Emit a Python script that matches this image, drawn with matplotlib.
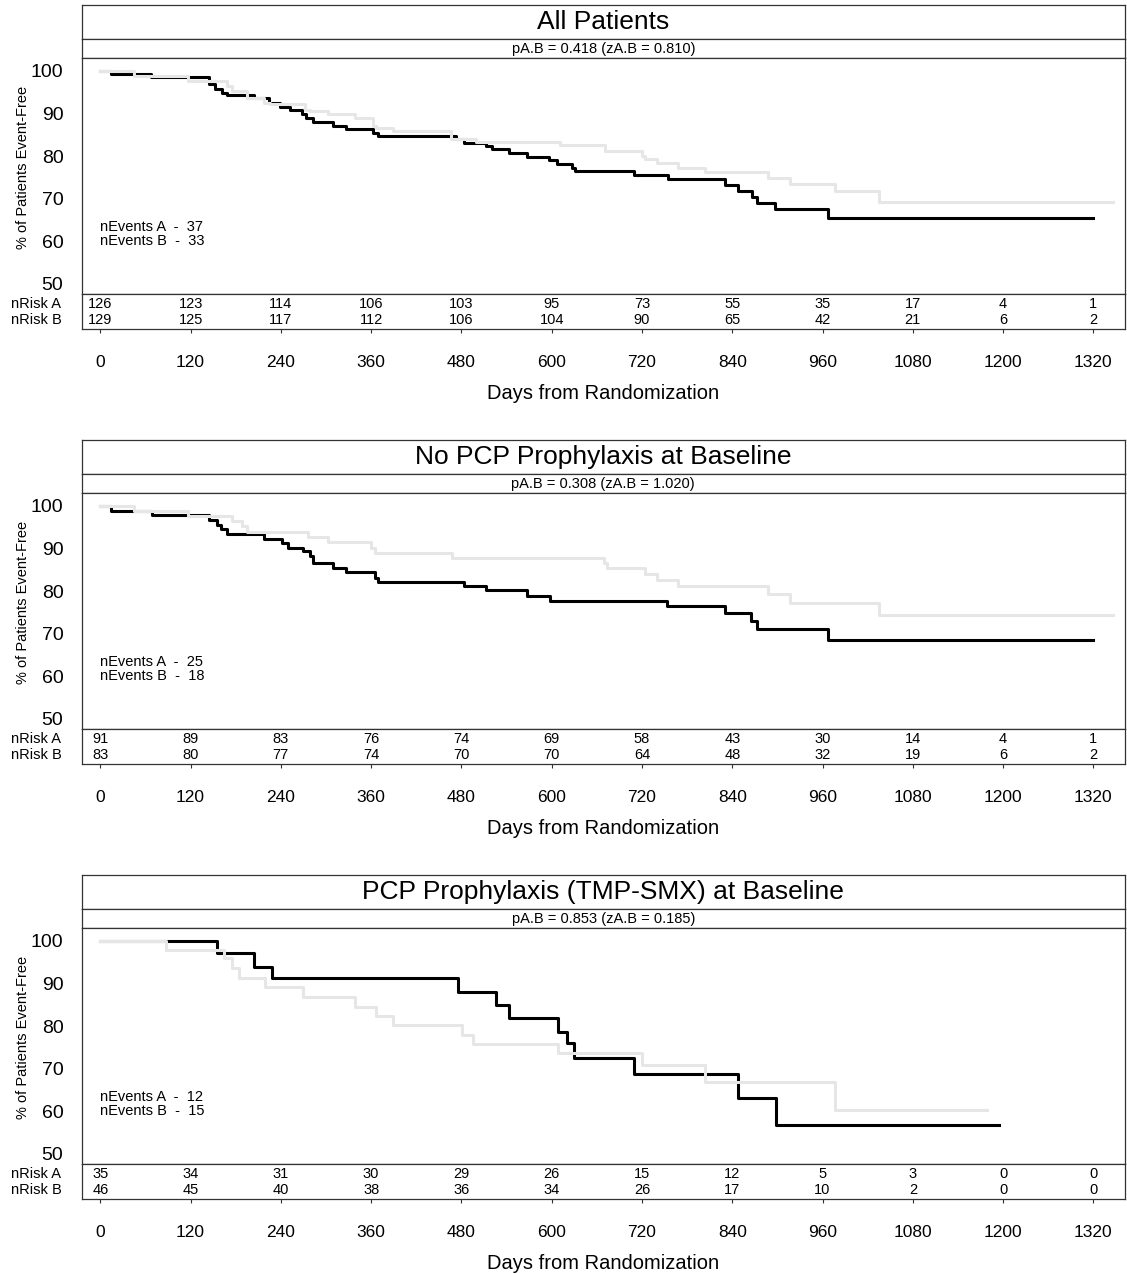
import matplotlib
matplotlib.use('Agg')
import matplotlib.pyplot as plt

plt.rcParams['font.family'] = ['Liberation Sans', 'DejaVu Sans']

# ---------------- data ----------------
titles = ["All Patients", "No PCP Prophylaxis at Baseline", "PCP Prophylaxis (TMP-SMX) at Baseline"]
subtitles = ["pA.B = 0.418 (zA.B = 0.810)", "pA.B = 0.308 (zA.B = 1.020)", "pA.B = 0.853 (zA.B = 0.185)"]
n_events_a = [37, 25, 12]
n_events_b = [33, 18, 15]

tick_days = [0, 120, 240, 360, 480, 600, 720, 840, 960, 1080, 1200, 1320]
y_ticks = [50, 60, 70, 80, 90, 100]

# Panel 1: All Patients
p1_a_days = [0, 14, 67, 145, 153, 162, 169, 204, 224, 239, 252, 268, 274, 283, 309, 327, 362, 369,
             473, 484, 512, 521, 543, 567, 596, 607, 627, 631, 709, 755, 830, 847, 866, 873, 897, 967]
p1_a_surv = [100, 99.2, 98.6, 96.9, 95.7, 94.9, 94.3, 93.7, 92.6, 91.5, 90.8, 90.0, 89.0, 88.0, 87.2, 86.3, 85.5, 84.7,
             84.0, 83.2, 82.4, 81.8, 80.8, 79.9, 79.0, 78.1, 77.3, 76.5, 75.5, 74.6, 73.2, 71.8, 70.5, 69.1, 67.7, 65.4]
p1_a_end = 1319
p1_b_days = [0, 45, 116, 168, 175, 195, 217, 226, 272, 279, 303, 338, 362, 367, 389, 466, 499, 611,
             671, 720, 724, 740, 768, 804, 888, 917, 976, 1035]
p1_b_surv = [100, 98.8, 97.7, 96.5, 95.3, 93.7, 92.6, 92.2, 90.8, 90.6, 89.8, 89.0, 87.1, 86.7, 85.9, 84.0, 83.4, 82.6,
             81.2, 80.0, 79.3, 78.5, 77.3, 76.3, 74.8, 73.4, 71.8, 69.3]
p1_b_end = 1346
p1_risk_a = [126, 123, 114, 106, 103, 95, 73, 55, 35, 17, 4, 1]
p1_risk_b = [129, 125, 117, 112, 106, 104, 90, 65, 42, 21, 6, 2]

# Panel 2: No PCP prophylaxis
p2_a_days = [0, 14, 69, 145, 155, 161, 169, 217, 241, 250, 270, 279, 283, 309, 327, 365, 369,
             484, 512, 567, 598, 753, 830, 865, 873, 967]
p2_a_surv = [100, 98.9, 97.8, 96.7, 95.6, 94.5, 93.4, 92.2, 91.4, 90.2, 89.4, 88.3, 86.7, 85.5, 84.5, 83.2, 82.2,
             81.2, 80.2, 78.9, 77.7, 76.5, 74.8, 73.0, 71.2, 68.5]
p2_a_end = 1319
p2_b_days = [0, 45, 116, 175, 188, 195, 276, 303, 360, 365, 468, 669, 674, 724, 740, 768, 888, 917, 1035]
p2_b_surv = [100, 98.8, 97.6, 96.4, 95.2, 94.0, 92.8, 91.6, 90.2, 89.0, 87.8, 86.7, 85.5, 84.0, 82.6, 81.2, 79.3, 77.3, 74.3]
p2_b_end = 1346
p2_risk_a = [91, 89, 83, 76, 74, 69, 58, 43, 30, 14, 4, 1]
p2_risk_b = [83, 80, 77, 74, 70, 70, 64, 48, 32, 19, 6, 2]

# Panel 3: PCP prophylaxis (TMP-SMX)
p3_a_days = [0, 155, 204, 228, 476, 526, 543, 608, 620, 629, 709, 847, 898]
p3_a_surv = [100, 97.1, 94.0, 91.2, 88.1, 85.0, 82.0, 78.7, 76.0, 72.5, 68.8, 63.1, 56.8]
p3_a_end = 1194
p3_b_days = [0, 87, 164, 175, 184, 219, 270, 338, 367, 389, 481, 495, 609, 720, 804, 976]
p3_b_surv = [100, 97.9, 95.9, 93.6, 91.4, 89.1, 86.9, 84.6, 82.5, 80.3, 77.9, 75.8, 73.6, 70.9, 66.8, 60.3]
p3_b_end = 1179
p3_risk_a = [35, 34, 31, 30, 29, 26, 15, 12, 5, 3, 0, 0]
p3_risk_b = [46, 45, 40, 38, 36, 34, 26, 17, 10, 2, 0, 0]

panels = [
    (p1_a_days, p1_a_surv, p1_a_end, p1_b_days, p1_b_surv, p1_b_end, p1_risk_a, p1_risk_b),
    (p2_a_days, p2_a_surv, p2_a_end, p2_b_days, p2_b_surv, p2_b_end, p2_risk_a, p2_risk_b),
    (p3_a_days, p3_a_surv, p3_a_end, p3_b_days, p3_b_surv, p3_b_end, p3_risk_a, p3_risk_b),
]

# ---------------- layout ----------------
W, H = 1127, 1274
fig = plt.figure(figsize=(W / 100, H / 100), dpi=100)

XL, XR = 81.5, 1125.0
XMIN, XMAX = -25, 1362
YMIN, YMAX = 47.58, 102.98
FRAME = '#333333'
FW = 0.9
GRAY = '#e6e6e6'


def fy(y):
    return 1 - y / H


def frame(ax):
    for s in ax.spines.values():
        s.set_color(FRAME)
        s.set_linewidth(FW)


for k, (ad, av, ae, bd, bv, be, ra, rb) in enumerate(panels):
    o = 435 * k
    L = XL / W
    Wd = (XR - XL) / W
    ax_t = fig.add_axes([L, fy(39.3 + o), Wd, (39.3 - 5) / H])
    ax_s = fig.add_axes([L, fy(58.3 + o), Wd, (58.3 - 39.3) / H])
    ax = fig.add_axes([L, fy(294.3 + o), Wd, (294.3 - 58.3) / H])
    ax_r = fig.add_axes([L, fy(329 + o), Wd, (329 - 294.3) / H])

    for a in (ax_t, ax_s):
        a.set_xticks([])
        a.set_yticks([])
        frame(a)
    ax_t.text(0.5, 0.5, titles[k], ha='center', va='center', fontsize=19, transform=ax_t.transAxes)
    ax_s.text(0.5, 0.48, subtitles[k], ha='center', va='center', fontsize=10.5, transform=ax_s.transAxes)

    # survival curves
    ax.step(ad + [ae], av + [av[-1]], where='post', color='black', lw=2.2, zorder=3)
    ax.step(bd + [be], bv + [bv[-1]], where='post', color=GRAY, lw=2.2, zorder=4)
    ax.set_xlim(XMIN, XMAX)
    ax.set_ylim(YMIN, YMAX)
    ax.set_xticks([])
    ax.set_yticks(y_ticks)
    ax.set_yticklabels([str(v) for v in y_ticks], fontsize=14)
    ax.tick_params(axis='y', length=0, pad=13)
    ax.set_ylabel('% of Patients Event-Free', fontsize=10.5)
    ax.yaxis.set_label_coords(-0.049, 0.537)
    frame(ax)

    ax.text(0, 63.4, f'nEvents A  -  {n_events_a[k]}', fontsize=10.5, ha='left', va='center')
    ax.text(0, 60.2, f'nEvents B  -  {n_events_b[k]}', fontsize=10.5, ha='left', va='center')

    # risk table
    ax_r.set_xlim(XMIN, XMAX)
    ax_r.set_ylim(0, 1)
    ax_r.set_yticks([])
    ax_r.set_xticks(tick_days)
    ax_r.set_xticklabels([str(d) for d in tick_days], fontsize=12.5)
    ax_r.tick_params(axis='x', direction='out', length=3, width=0.8, pad=16, colors=FRAME, labelcolor='black')
    ax_r.set_xlabel('Days from Randomization', fontsize=14.5, labelpad=10)
    frame(ax_r)
    for d, na, nb in zip(tick_days, ra, rb):
        ax_r.text(d, 0.72, str(na), ha='center', va='center', fontsize=10.5)
        ax_r.text(d, 0.26, str(nb), ha='center', va='center', fontsize=10.5)
    ax_r.text(-0.0193, 0.72, 'nRisk A', ha='right', va='center', fontsize=10.5, transform=ax_r.transAxes)
    ax_r.text(-0.0193, 0.26, 'nRisk B', ha='right', va='center', fontsize=10.5, transform=ax_r.transAxes)

fig.savefig('out.png', dpi=100, facecolor='white')
